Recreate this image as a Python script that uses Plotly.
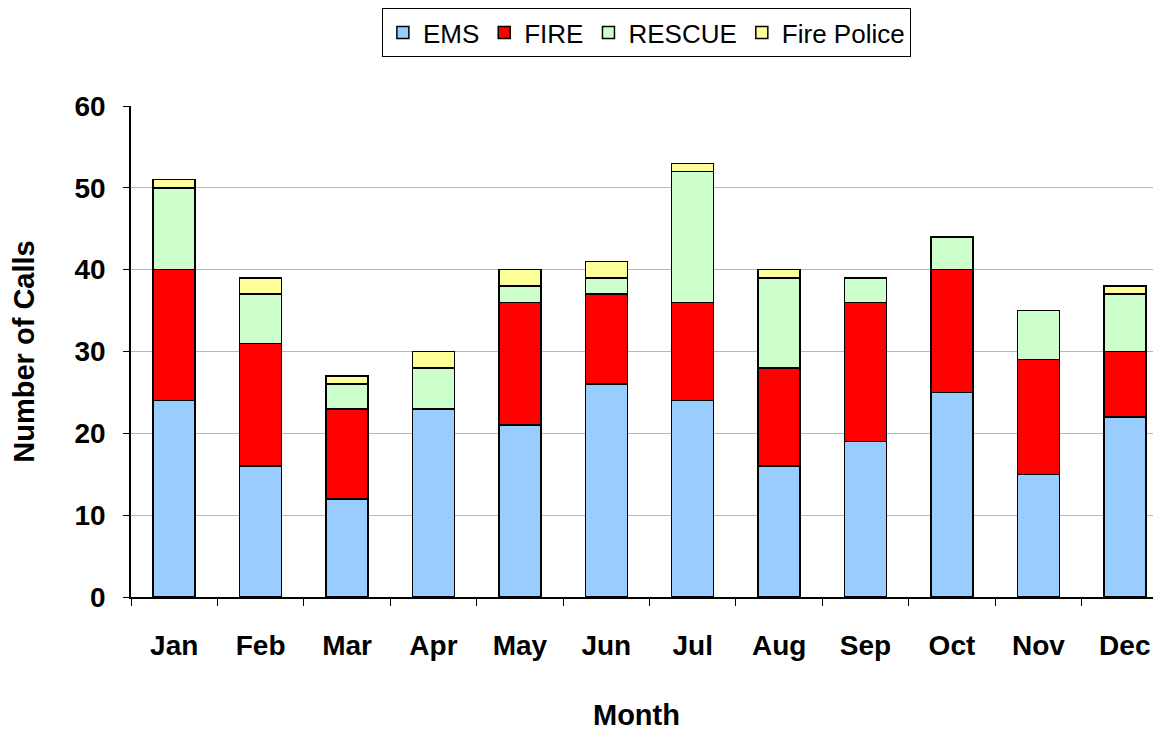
import plotly.graph_objects as go

months = ["Jan", "Feb", "Mar", "Apr", "May", "Jun", "Jul", "Aug", "Sep", "Oct", "Nov", "Dec"]
ems = [24, 16, 12, 23, 21, 26, 24, 16, 19, 25, 15, 22]
fire = [16, 15, 11, 0, 15, 11, 12, 12, 17, 15, 14, 8]
rescue = [10, 6, 3, 5, 2, 2, 16, 11, 3, 4, 6, 7]
fire_police = [1, 2, 1, 2, 2, 2, 1, 1, 0, 0, 0, 1]

series = [
    ("EMS", ems, "#99ccff"),
    ("FIRE", fire, "#ff0000"),
    ("RESCUE", rescue, "#ccffcc"),
    ("Fire Police", fire_police, "#ffff99"),
]

fig = go.Figure()
for name, vals, color in series:
    fig.add_trace(go.Bar(
        x=months, y=vals, name=name,
        marker=dict(color=color, line=dict(color="black", width=1.5)),
    ))

font_family = "Liberation Sans, Arial, sans-serif"
fig.update_layout(
    barmode="stack",
    bargap=0.514,
    width=1161, height=731,
    margin=dict(l=123, r=1, t=97, b=142),
    paper_bgcolor="white", plot_bgcolor="white",
    font=dict(family=font_family, color="black"),
    legend=dict(
        orientation="h", x=0.497, xanchor="center", y=1.197, yanchor="top",
        bordercolor="black", borderwidth=1, font=dict(size=26),
        traceorder="normal", itemwidth=30,
    ),
    xaxis=dict(
        showline=True, linecolor="black", linewidth=1.5,
        ticks="outside", tickson="boundaries", ticklen=7, tickcolor="black",
        tickfont=dict(size=28, family=font_family, weight="bold"),
        ticklabelstandoff=23,
    ),
    yaxis=dict(
        range=[0, 60], dtick=10,
        showline=True, linecolor="black", linewidth=1.5,
        ticks="outside", ticklen=6, tickcolor="black",
        showgrid=True, gridcolor="#b8b8b8", gridwidth=1,
        tickfont=dict(size=28, family=font_family, weight="bold"),
        ticklabelstandoff=12,
        title=dict(text="<b>Number of Calls</b>", font=dict(size=29), standoff=36),
        zeroline=False,
    ),
    annotations=[dict(
        text="<b>Month</b>", xref="paper", yref="paper",
        x=0.487, y=-0.240, xanchor="center", yanchor="middle",
        showarrow=False, font=dict(size=29, family=font_family),
    )],
)

fig.write_html("out.html")
